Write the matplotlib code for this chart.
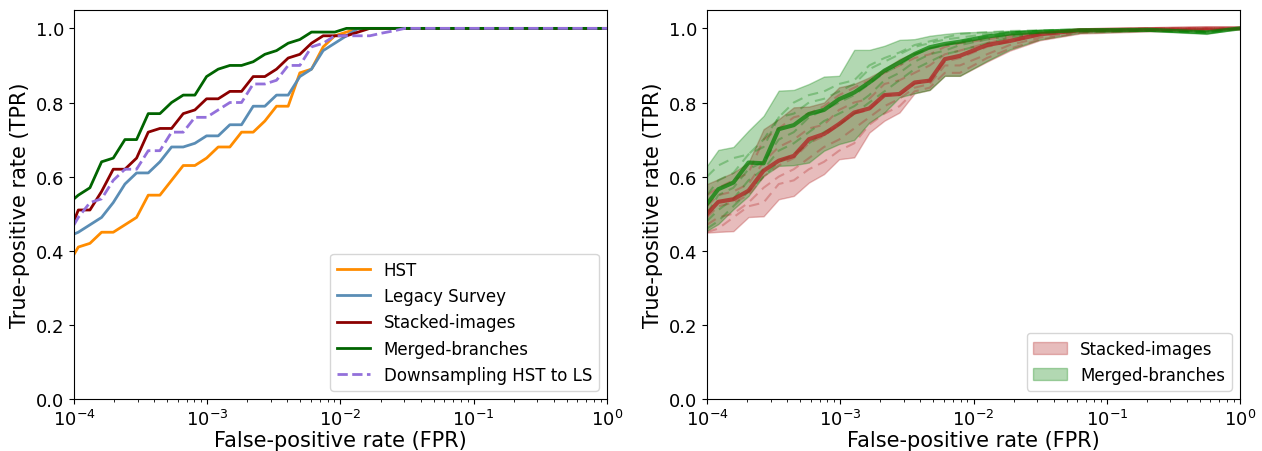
import matplotlib
matplotlib.use("Agg")
import matplotlib.pyplot as plt

# left panel: ROC curves (FPR grid shared by all series)
left_fpr = [1.0e-4, 1.078e-4, 1.318e-4, 1.612e-4, 1.972e-4, 2.413e-4, 2.951e-4, 3.61e-4,
            4.416e-4, 5.401e-4, 6.607e-4, 8.082e-4, 9.886e-4, 1.209e-3, 1.479e-3, 1.809e-3,
            2.213e-3, 2.707e-3, 3.311e-3, 4.05e-3, 4.955e-3, 6.06e-3, 7.413e-3, 9.068e-3,
            1.109e-2, 1.357e-2, 1.66e-2, 2.03e-2, 2.483e-2, 3.04e-2, 1.0]
tpr_hst = [0.39, 0.41, 0.42, 0.45, 0.45, 0.47, 0.49, 0.55, 0.55, 0.59, 0.63, 0.63, 0.65, 0.68,
           0.68, 0.72, 0.72, 0.75, 0.79, 0.79, 0.88, 0.89, 0.95, 0.98, 0.99, 1.0, 1.0, 1.0,
           1.0, 1.0, 1.0]
tpr_ls = [0.445, 0.45, 0.47, 0.49, 0.53, 0.58, 0.61, 0.61, 0.64, 0.68, 0.68, 0.69, 0.71, 0.71,
          0.74, 0.74, 0.79, 0.79, 0.82, 0.82, 0.87, 0.89, 0.94, 0.96, 0.98, 1.0, 1.0, 1.0,
          1.0, 1.0, 1.0]
tpr_stacked = [0.48, 0.51, 0.51, 0.56, 0.62, 0.62, 0.65, 0.72, 0.73, 0.73, 0.77, 0.78, 0.81,
               0.81, 0.83, 0.83, 0.87, 0.87, 0.89, 0.92, 0.93, 0.96, 0.98, 0.98, 0.98, 0.99,
               1.0, 1.0, 1.0, 1.0, 1.0]
tpr_merged = [0.54, 0.55, 0.57, 0.64, 0.65, 0.70, 0.70, 0.77, 0.77, 0.80, 0.82, 0.82, 0.87,
              0.89, 0.90, 0.90, 0.91, 0.93, 0.94, 0.96, 0.97, 0.99, 0.99, 0.99, 1.0, 1.0,
              1.0, 1.0, 1.0, 1.0, 1.0]
tpr_down = [0.47, 0.49, 0.53, 0.54, 0.59, 0.62, 0.62, 0.67, 0.67, 0.72, 0.72, 0.76, 0.76,
            0.78, 0.80, 0.80, 0.85, 0.85, 0.86, 0.90, 0.90, 0.95, 0.96, 0.98, 0.98, 0.98,
            0.98, 0.987, 0.993, 1.0, 1.0]

# right panel: cross-validation spread (mean, min/max band and single folds)
right_fpr = [1.0e-4, 1.216e-4, 1.578e-4, 2.049e-4, 2.66e-4, 3.453e-4, 4.483e-4, 5.82e-4,
             7.555e-4, 9.80e-4, 1.273e-3, 1.652e-3, 2.145e-3, 2.783e-3, 3.613e-3, 4.69e-3,
             6.09e-3, 7.90e-3, 1.26e-2, 1.87e-2, 3.15e-2, 6.28e-2, 0.21, 0.563, 1.0]
st_mean = [0.499, 0.532, 0.539, 0.562, 0.616, 0.643, 0.656, 0.701, 0.715, 0.742, 0.773, 0.784,
           0.820, 0.823, 0.854, 0.859, 0.917, 0.926, 0.955, 0.966, 0.984, 0.995, 0.998, 1.0, 1.0]
st_low = [0.449, 0.451, 0.453, 0.491, 0.493, 0.539, 0.548, 0.584, 0.607, 0.647, 0.652, 0.719,
          0.751, 0.773, 0.825, 0.834, 0.872, 0.872, 0.91, 0.94, 0.968, 0.986, 0.992, 0.993, 1.0]
st_high = [0.580, 0.593, 0.611, 0.638, 0.728, 0.755, 0.787, 0.789, 0.800, 0.841, 0.850, 0.868,
           0.890, 0.917, 0.935, 0.949, 0.958, 0.964, 0.975, 0.985, 0.99, 0.997, 1.0, 1.0, 1.0]
mb_mean = [0.526, 0.566, 0.584, 0.638, 0.636, 0.728, 0.739, 0.769, 0.780, 0.809, 0.827, 0.854,
           0.886, 0.908, 0.931, 0.949, 0.958, 0.964, 0.978, 0.986, 0.991, 0.995, 0.996, 0.989, 1.0]
mb_low = [0.454, 0.472, 0.512, 0.548, 0.602, 0.629, 0.631, 0.638, 0.670, 0.688, 0.699, 0.746,
          0.773, 0.814, 0.825, 0.834, 0.872, 0.872, 0.912, 0.943, 0.97, 0.988, 0.993, 0.985, 1.0]
mb_high = [0.629, 0.672, 0.680, 0.724, 0.764, 0.832, 0.834, 0.850, 0.870, 0.872, 0.942, 0.942,
           0.953, 0.969, 0.971, 0.980, 0.985, 0.989, 0.991, 0.994, 0.996, 0.997, 0.998, 0.998, 1.0]
st_folds = [
    [0.55, 0.57, 0.59, 0.61, 0.70, 0.73, 0.76, 0.77, 0.79, 0.82, 0.84, 0.86, 0.88, 0.90, 0.92,
     0.93, 0.95, 0.96, 0.97, 0.98, 0.99, 0.996, 1.0, 1.0, 1.0],
    [0.52, 0.55, 0.56, 0.58, 0.64, 0.68, 0.70, 0.73, 0.74, 0.78, 0.80, 0.81, 0.85, 0.86, 0.88,
     0.90, 0.93, 0.94, 0.96, 0.975, 0.986, 0.996, 0.999, 1.0, 1.0],
    [0.49, 0.52, 0.53, 0.55, 0.60, 0.63, 0.65, 0.69, 0.71, 0.74, 0.77, 0.78, 0.82, 0.82, 0.85,
     0.86, 0.91, 0.92, 0.95, 0.965, 0.982, 0.994, 0.998, 1.0, 1.0],
    [0.47, 0.49, 0.50, 0.53, 0.57, 0.60, 0.62, 0.65, 0.68, 0.70, 0.73, 0.76, 0.79, 0.81, 0.84,
     0.85, 0.90, 0.90, 0.93, 0.955, 0.975, 0.99, 0.996, 0.998, 1.0],
    [0.45, 0.46, 0.49, 0.52, 0.53, 0.58, 0.59, 0.62, 0.64, 0.67, 0.69, 0.74, 0.77, 0.79, 0.83,
     0.84, 0.88, 0.88, 0.92, 0.945, 0.97, 0.988, 0.994, 0.995, 1.0],
]
mb_folds = [
    [0.60, 0.63, 0.65, 0.66, 0.70, 0.76, 0.80, 0.82, 0.83, 0.85, 0.86, 0.90, 0.92, 0.935, 0.955,
     0.965, 0.975, 0.985, 0.99, 0.993, 0.995, 0.997, 0.998, 0.998, 1.0],
    [0.55, 0.59, 0.61, 0.66, 0.68, 0.76, 0.77, 0.80, 0.81, 0.83, 0.85, 0.89, 0.91, 0.93, 0.95,
     0.96, 0.97, 0.975, 0.985, 0.99, 0.993, 0.996, 0.997, 0.992, 1.0],
    [0.50, 0.55, 0.57, 0.62, 0.64, 0.70, 0.72, 0.76, 0.78, 0.80, 0.82, 0.85, 0.88, 0.90, 0.93,
     0.945, 0.955, 0.965, 0.978, 0.986, 0.991, 0.995, 0.996, 0.99, 1.0],
    [0.48, 0.51, 0.54, 0.59, 0.62, 0.67, 0.69, 0.72, 0.75, 0.77, 0.79, 0.82, 0.86, 0.88, 0.91,
     0.93, 0.94, 0.955, 0.97, 0.98, 0.988, 0.993, 0.995, 0.988, 1.0],
    [0.46, 0.48, 0.52, 0.56, 0.60, 0.64, 0.66, 0.69, 0.72, 0.74, 0.77, 0.80, 0.83, 0.86, 0.89,
     0.91, 0.93, 0.94, 0.96, 0.975, 0.985, 0.99, 0.994, 0.99, 1.0],
]

fig = plt.figure(figsize=(12.62, 4.52), dpi=100)
ax1 = fig.add_axes([0.0586, 0.115, 0.4224, 0.861])
ax2 = fig.add_axes([0.5602, 0.115, 0.4224, 0.861])

ax1.plot(left_fpr, tpr_hst, color='darkorange', lw=2, label='HST')
ax1.plot(left_fpr, tpr_ls, color='#5a8db5', lw=2, label='Legacy Survey')
ax1.plot(left_fpr, tpr_stacked, color='darkred', lw=2, label='Stacked-images')
ax1.plot(left_fpr, tpr_merged, color='darkgreen', lw=2, label='Merged-branches')
ax1.plot(left_fpr, tpr_down, color='mediumpurple', lw=2, ls='--', label='Downsampling HST to LS')
ax1.legend(loc='lower right', fontsize=12)

ax2.fill_between(right_fpr, st_low, st_high, color='#b22222', alpha=0.3, label='Stacked-images')
ax2.fill_between(right_fpr, mb_low, mb_high, color='green', alpha=0.3, label='Merged-branches')
for f in st_folds:
    ax2.plot(right_fpr, f, color='#b22222', lw=1.5, ls=(0, (5, 3)), alpha=0.3)
for f in mb_folds:
    ax2.plot(right_fpr, f, color='green', lw=1.5, ls=(0, (5, 3)), alpha=0.3)
ax2.plot(right_fpr, st_mean, color='#b22222', lw=3, alpha=0.75)
ax2.plot(right_fpr, mb_mean, color='green', lw=3, alpha=0.7)
ax2.legend(loc='lower right', fontsize=12)

for ax in (ax1, ax2):
    ax.set_xscale('log')
    ax.set_xlim(1e-4, 1)
    ax.set_ylim(0, 1.05)
    ax.set_yticks([0.0, 0.2, 0.4, 0.6, 0.8, 1.0])
    ax.tick_params(labelsize=13)
    ax.set_xlabel('False-positive rate (FPR)', fontsize=15, labelpad=1)
    ax.set_ylabel('True-positive rate (TPR)', fontsize=15)

plt.savefig('out.png', dpi=100)
